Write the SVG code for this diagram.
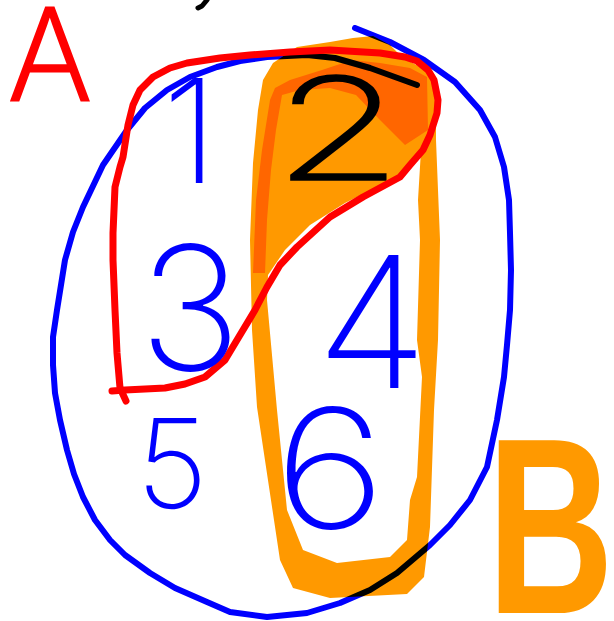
<svg xmlns="http://www.w3.org/2000/svg" width="614" height="621" viewBox="0 0 614 621">
<style>
.stroke{fill:none;stroke-linecap:round;stroke-linejoin:round}
.digit{font-family:Inter,"Liberation Sans",sans-serif;font-weight:200;text-anchor:middle}
</style>
<rect width="614" height="621" fill="#ffffff"/>
<g id="set-B-highlight">
<path fill="#ff9900" fill-rule="evenodd" d="M263,80 L273,63 L297,47 L330,42 L353,38 L373,36 L390,45 L403,58 L430,72 L436,100 L436,140 L440,240 L438,340 L434,410 L430,527 L424,577 L407,594 L330,598 L293,588 L280,560 L263,447 L257,407 L252,330 L250,240 L253,163 L258,110 Z M421,150 L418,200 L420,240 L417,340 L422,377 L417,477 L410,500 L407,540 L390,557 L337,563 L303,550 L287,510 L277,410 L267,300 L268,275 L285,250 L310,225 L345,203 L385,183 L405,172 Z"/>
<path fill="#ff6600" d="M253,273 L256,200 L262,150 L270,100 L275,88 L290,80 L322,70 L352,60 L380,63 L410,68 L427,77 L428,130 L405,145 L380,120 L356,95 L330,88 L300,90 L282,95 L276,130 L271,170 L267,220 L265,273 Z"/>
</g>
<g id="mark-top">
<path class="stroke" stroke="#000" stroke-width="5" d="M207,0 L202,6 L198,8"/>
</g>
<g id="label-2">
<text class="digit" x="338" y="180" font-size="142" fill="#000000" stroke="#000000" stroke-width="1.5" textLength="130" lengthAdjust="spacingAndGlyphs">2</text>
</g>
<g id="set-universe" style="mix-blend-mode:multiply">
<path class="stroke" stroke="#0000ff" stroke-width="6" d="M355,28 L390,42 L424,60 L455,82 L480,110 L495,137 L504,167 L509,200 L510,233 L511,270 L510,310 L507,345 L504,377 L497,420 L487,467 L470,500 L450,525 L430,545 L397,573 L370,590 L340,603 L307,613 L267,617 L230,612 L207,602 L175,588 L150,573 L125,555 L110,540 L95,520 L83,497 L74,474 L67,450 L60,420 L55,393 L53,365 L53,337 L57,310 L65,260 L73,232 L83,207 L103,165 L127,130 L145,108 L167,90 L190,77 L217,67 L240,61 L267,57 L307,55 L335,58 L370,68 L417,85"/>
</g>
<g id="set-A">
<path class="stroke" stroke="#ff0000" stroke-width="7" d="M126,401 L120,388 L117,353 L115,310 L113,260 L113,233 L115,187 L120,167 L123,157 L128,125 L133,105 L140,90 L153,77 L170,68 L187,63 L220,58 L250,55 L290,52 L330,50 L380,53 L405,57 L417,61 L428,70 L434,80 L438,100 L437,113 L430,135 L423,150 L410,165 L400,177 L363,197 L330,217 L297,247 L280,265 L267,287 L255,310 L240,335 L225,360 L205,377 L185,384 L165,388 L125,390 L112,391"/>
</g>
<g id="labels">
<text class="digit" x="190" y="183" font-size="145" fill="#0000ff">1</text>
<text class="digit" x="190" y="370" font-size="172" fill="#0000ff">3</text>
<text class="digit" x="372" y="388" font-size="183" fill="#0000ff">4</text>
<text class="digit" x="172" y="508" font-size="124" fill="#0000ff">5</text>
<text class="digit" x="330" y="528" font-size="165" fill="#0000ff" textLength="112" lengthAdjust="spacingAndGlyphs">6</text>
<text class="digit" x="50" y="100" font-size="127" fill="#ff0000" stroke="#ff0000" stroke-width="3">A</text>
<text x="487" y="613" font-family="'Liberation Sans',sans-serif" font-weight="700" font-size="250" fill="#ff9900" textLength="127" lengthAdjust="spacingAndGlyphs">B</text>
</g>
</svg>
